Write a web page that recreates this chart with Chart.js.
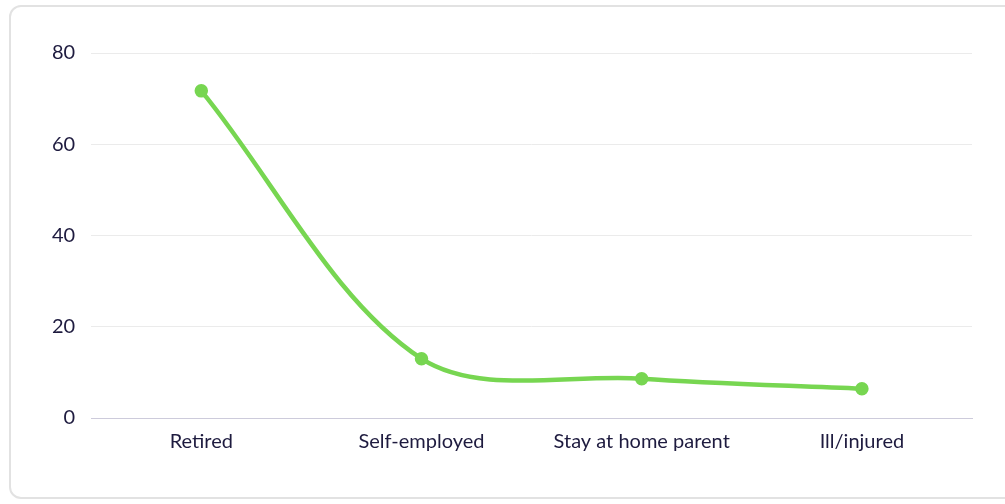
<!DOCTYPE html>
<html>
<head>
<meta charset="utf-8">
<script src="https://cdn.jsdelivr.net/npm/chart.js@4"></script>
<style>
  html, body { margin: 0; padding: 0; background: #fff; }
  #card {
    position: absolute; left: 9px; top: 5px; width: 1010px; height: 494px;
    border: 2px solid #e2e2e2; border-radius: 12px; box-sizing: border-box;
  }
  #wrap { position: absolute; left: 0; top: 0; width: 1005px; height: 504px; }
</style>
</head>
<body>
<div id="card"></div>
<div id="wrap"><canvas id="chart"></canvas></div>
<script>
  const categories = ['Retired', 'Self-employed', 'Stay at home parent', 'Ill/injured'];
  const values = [71.7, 13.0, 8.6, 6.4];
  const yTicks = [0, 20, 40, 60, 80];

  const textColor = '#1e1b3f';
  const ctx = document.getElementById('chart').getContext('2d');
  const chart = new Chart(ctx, {
    type: 'line',
    data: {
      labels: categories,
      datasets: [{
        data: values,
        borderColor: '#77d651',
        backgroundColor: '#77d651',
        borderWidth: 4.5,
        pointRadius: 4.5,
        pointHoverRadius: 5,
        tension: 0.33,
        fill: false
      }]
    },
    options: {
      responsive: true,
      maintainAspectRatio: false,
      animation: false,
      plugins: {
        legend: { display: false },
        tooltip: { enabled: false }
      },
      layout: {
        padding: { left: 36, right: 33, top: 53, bottom: 38 }
      },
      scales: {
        x: {
          offset: true,
          grid: { display: false, drawTicks: false },
          border: { display: true, color: '#cdcbdb', width: 1 },
          ticks: {
            color: textColor,
            padding: 12,
            font: { family: 'Lato', size: 20 }
          }
        },
        y: {
          min: 0,
          max: 80,
          afterBuildTicks: function(axis) {
            axis.ticks = yTicks.map(function(v) { return { value: v }; });
          },
          grid: { color: '#ebebeb', drawTicks: false },
          border: { display: false },
          ticks: {
            color: textColor,
            padding: 16,
            font: { family: 'Lato', size: 20 }
          }
        }
      }
    }
  });
</script>
</body>
</html>
